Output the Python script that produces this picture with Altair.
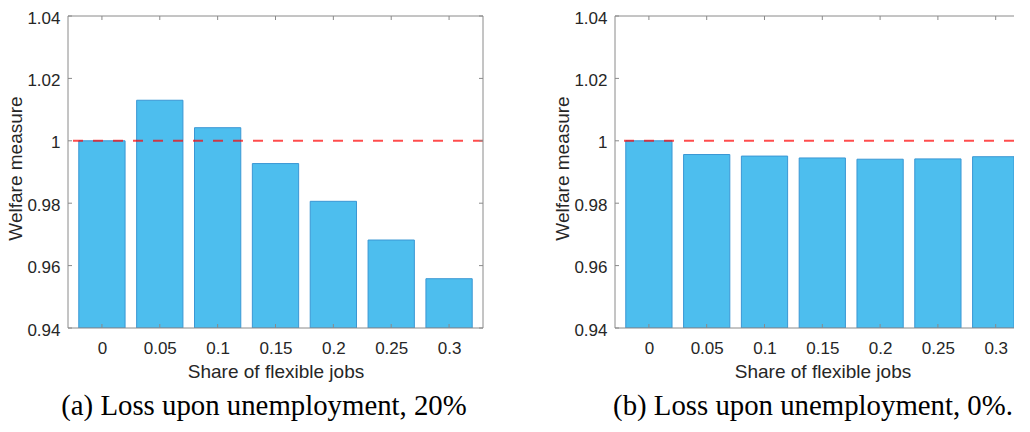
import altair as alt
import pandas as pd

# ---- data ----
shares = ["0", "0.05", "0.1", "0.15", "0.2", "0.25", "0.3"]
welfare_a = [1.0000, 1.0130, 1.0042, 0.9927, 0.9806, 0.9682, 0.9558]
welfare_b = [1.0000, 0.9956, 0.9951, 0.9945, 0.9941, 0.9942, 0.9949]
y_ticks = [0.94, 0.96, 0.98, 1.00, 1.02, 1.04]
y_limits = [0.94, 1.04]
reference_level = [1.0]
captions = ["(a) Loss upon unemployment, 20%", "(b) Loss upon unemployment, 0%."]

H = 312
FULL_W = 415          # width of a full MATLAB axes box (7 category slots)
BAR_W = 0.8           # bar width in category units
AXIS_GRAY = "#8a8a8a"
TEXT = "#262626"
BAR_FILL = "#4DBEEE"
BAR_EDGE = "#3A97D4"
TICK_LEN = 4

idx = list(range(len(shares)))
label_expr = "[" + ",".join("'%s'" % s for s in shares) + "][datum.value]"


def panel(values, caption, view_w, caption_dx, right_side):
    df = pd.DataFrame({"idx": idx, "share": shares, "value": values})
    tick_df = pd.DataFrame({"value": y_ticks})
    lim_df = pd.DataFrame({"value": y_limits})
    cat_df = pd.DataFrame({"idx": idx})
    ref_df = pd.DataFrame({"value": reference_level})

    # same pixels per category as a full box; a narrower view simply cuts off the right
    x_max = -0.5 + len(shares) * view_w / FULL_W
    x_scale = alt.Scale(domain=[-0.5, x_max], nice=False, zero=False, clamp=True)
    x_axis = alt.Axis(
        title="Share of flexible jobs", values=idx, labelExpr=label_expr, labelAngle=0,
        ticks=False, domain=False, grid=False,
        labelFont="Liberation Sans", labelFontSize=17, labelColor=TEXT, labelPadding=12,
        titleFont="Liberation Sans", titleFontSize=19, titleFontWeight="normal",
        titleColor=TEXT, titlePadding=6, titleX=FULL_W / 2,
    )
    y_axis = alt.Axis(
        title="Welfare measure", values=y_ticks, format="~g", ticks=False, domain=False,
        grid=False, labelFont="Liberation Sans", labelFontSize=17, labelColor=TEXT,
        labelPadding=8, labelBaseline="alphabetic", labelOffset=7,
        titleFont="Liberation Sans", titleFontSize=19,
        titleFontWeight="normal", titleColor=TEXT, titleX=-47, titleY=152,
        titleBaseline="alphabetic", titleAlign="center", titleAngle=270,
    )
    y_scale = alt.Scale(domain=[y_ticks[0], y_ticks[-1]], zero=False, nice=False)
    y_enc = alt.Y("value:Q", scale=y_scale, axis=y_axis)

    bars = alt.Chart(df).transform_calculate(
        lo="datum.idx - %g" % (BAR_W / 2), hi="datum.idx + %g" % (BAR_W / 2)
    ).mark_bar(
        color=BAR_FILL, stroke=BAR_EDGE, strokeWidth=1, clip=True, orient="vertical"
    ).encode(
        x=alt.X("lo:Q", scale=x_scale, axis=x_axis),
        x2="hi:Q",
        y=y_enc,
        y2=alt.Y2(datum=y_limits[0]),
    )

    ref = alt.Chart(ref_df).mark_rule(
        color="#ff0000", opacity=0.7, strokeWidth=2, strokeDash=[10, 10]
    ).encode(y=y_enc)

    frame_h = alt.Chart(lim_df).mark_rule(color=AXIS_GRAY, strokeWidth=1).encode(y=y_enc)
    frame_left = alt.Chart(lim_df.head(1)).mark_rule(color=AXIS_GRAY, strokeWidth=1).encode(
        x=alt.value(0), y=alt.value(0), y2=alt.value(H))

    x_tick_enc = alt.X("idx:Q", scale=x_scale, axis=x_axis)
    yt_left = alt.Chart(tick_df).mark_rule(color=AXIS_GRAY, strokeWidth=1).encode(
        y=y_enc, x=alt.value(0), x2=alt.value(TICK_LEN))
    xt_bottom = alt.Chart(cat_df).mark_rule(color=AXIS_GRAY, strokeWidth=1).encode(
        x=x_tick_enc, y=alt.value(H - TICK_LEN), y2=alt.value(H))
    xt_top = alt.Chart(cat_df).mark_rule(color=AXIS_GRAY, strokeWidth=1).encode(
        x=x_tick_enc, y=alt.value(0), y2=alt.value(TICK_LEN))

    layers = [bars, ref, yt_left, xt_bottom, xt_top, frame_h, frame_left]
    if right_side:
        layers.append(alt.Chart(tick_df).mark_rule(color=AXIS_GRAY, strokeWidth=1).encode(
            y=y_enc, x=alt.value(view_w - TICK_LEN), x2=alt.value(view_w)))
        layers.append(alt.Chart(lim_df.head(1)).mark_rule(
            color=AXIS_GRAY, strokeWidth=1).encode(
            x=alt.value(view_w), y=alt.value(0), y2=alt.value(H)))

    return alt.layer(*layers).properties(
        width=view_w, height=H,
        title=alt.TitleParams(
            text=caption, orient="bottom", anchor="middle", frame="group",
            font="Liberation Serif", fontSize=28.8, fontWeight="normal", color="black",
            offset=11, dx=caption_dx,
        ),
    )


chart = alt.hconcat(
    panel(welfare_a, captions[0], FULL_W, -11.5, True),
    panel(welfare_b, captions[1], 399, -1.5, False),
    spacing=132,
    bounds="flush",
).properties(
    padding={"left": -2, "top": 1, "right": 0, "bottom": 0}
).configure_view(stroke=None)

chart.save("out.html", embed_options={"renderer": "svg", "actions": False})
